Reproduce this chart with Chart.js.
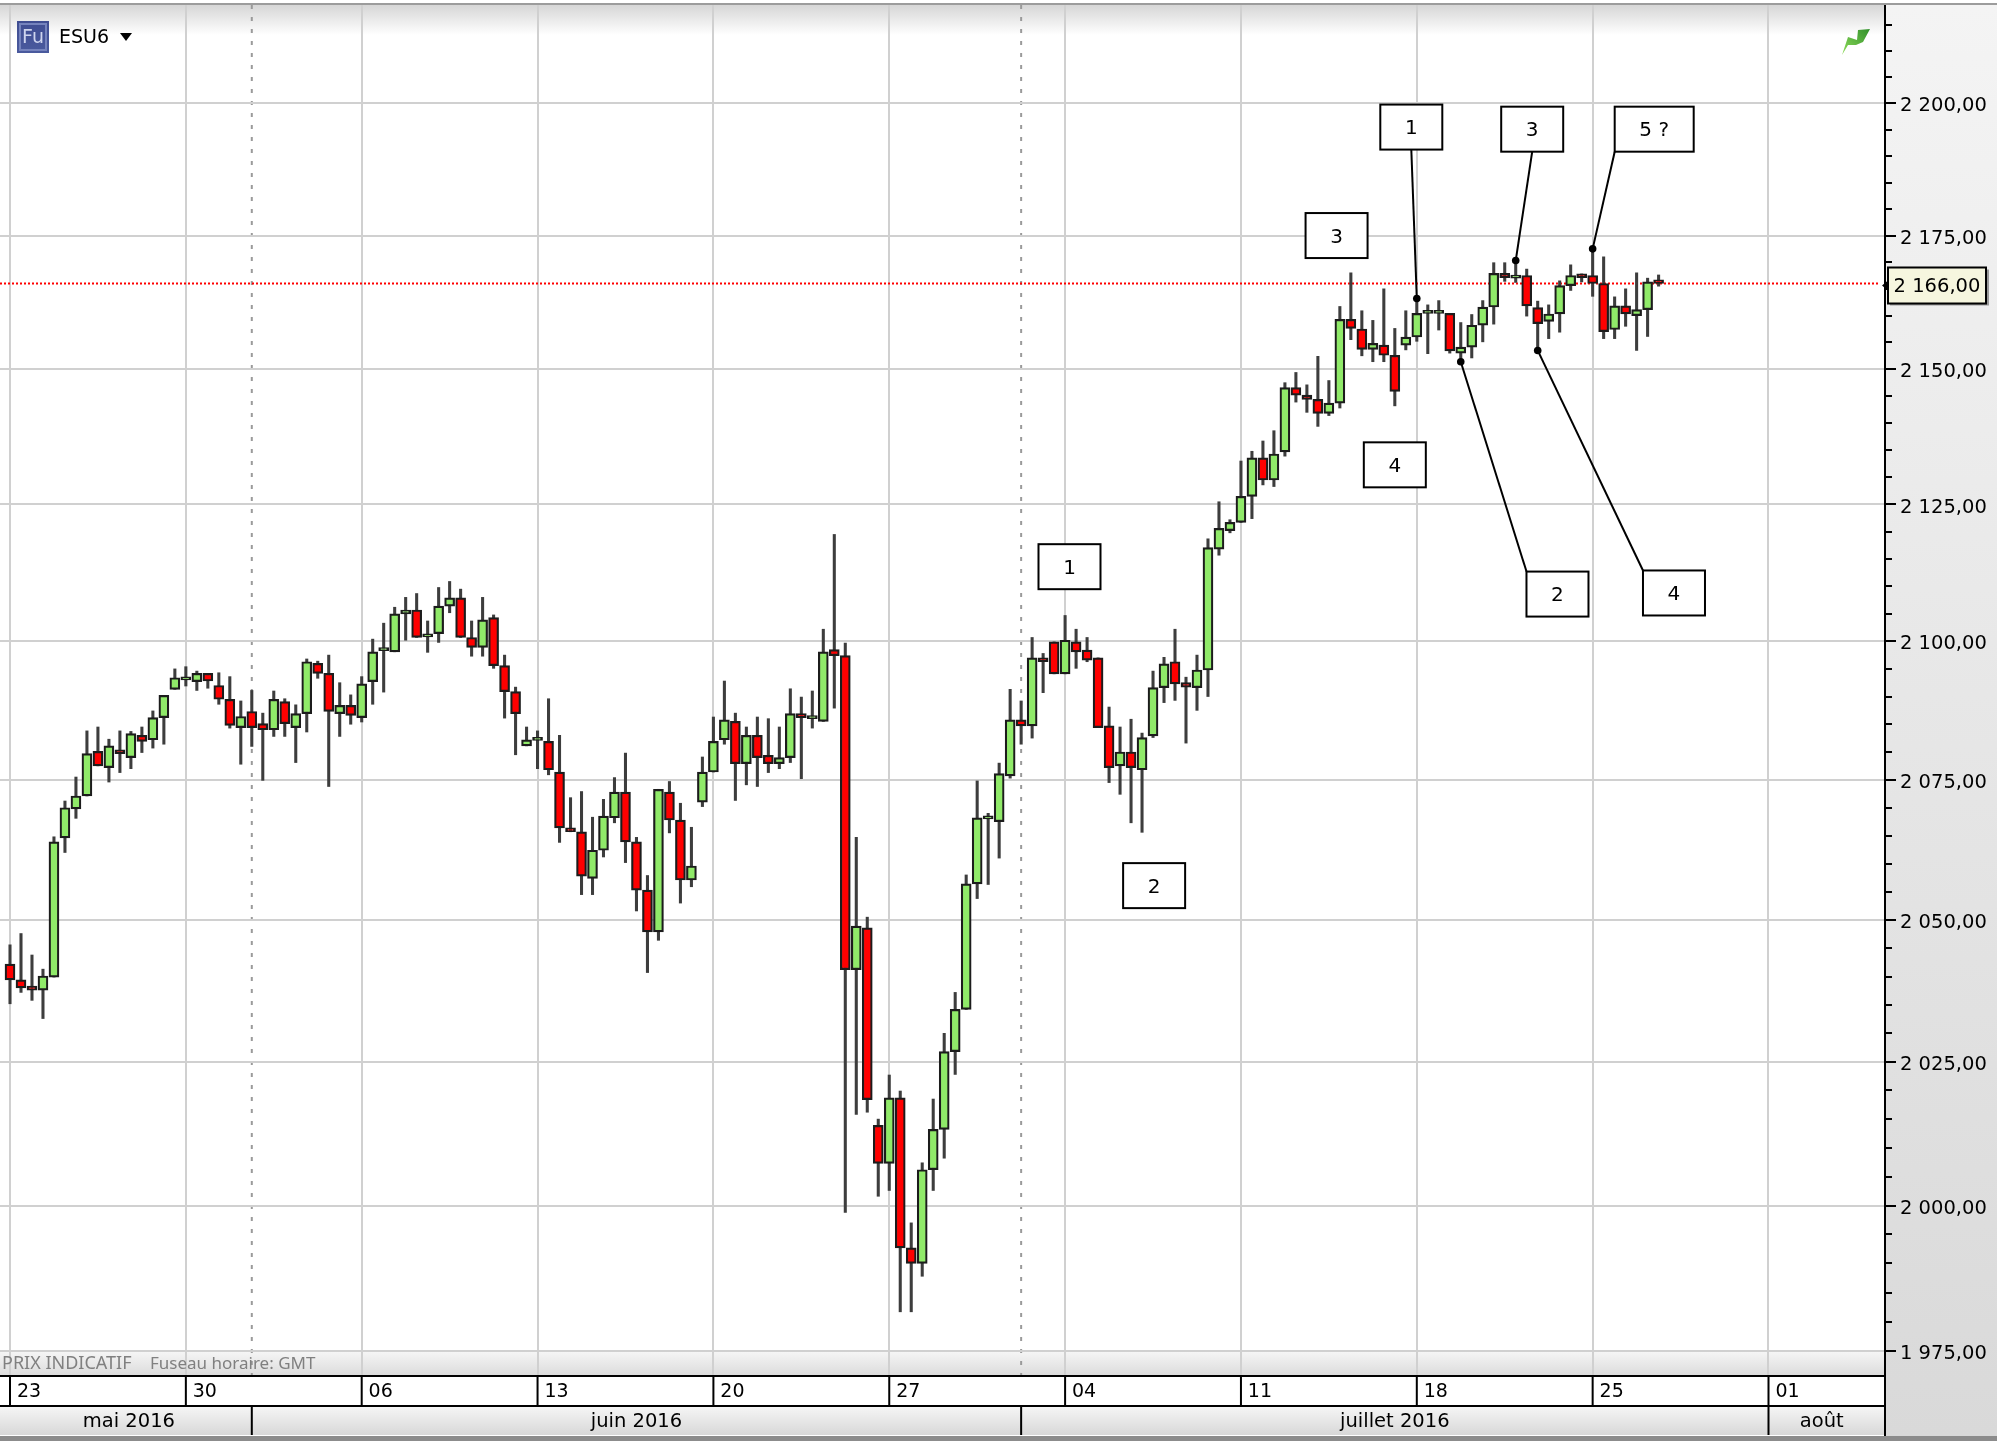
<!DOCTYPE html>
<html>
<head>
<meta charset="utf-8">
<title>ESU6</title>
<script src="https://cdn.jsdelivr.net/npm/chart.js@4/dist/chart.umd.min.js"></script>
<style>
  html, body { margin: 0; padding: 0; background: #fff; }
  canvas { display: block; }
</style>
</head>
<body>
<canvas id="chart" width="1997" height="1441"></canvas>
<script>
// one candle every 8h, 16 candles between two Mondays
const opens = [2042.2,2039.4,2038.3,2037.6,2039.9,2064.6,2069.8,2072.1,2080.1,2077.2,2080.4,2079,2083,2082.2,2086.2,2091.3,
  2093,2092.7,2094.2,2092,2089.5,2084.4,2087.3,2085.1,2084,2089.1,2084.4,2086.9,2096,2094.2,2086.9,2088.4,
  2086.2,2092.7,2098.3,2098.1,2105,2105.7,2100.8,2101.4,2106.4,2107.9,2100.7,2098.9,2104.3,2095.6,2090.9,2081.1,
  2082.1,2081.9,2076.4,2066.4,2065.7,2057.4,2062.4,2068.2,2072.8,2063.9,2055.3,2047.9,2072.8,2067.8,2057.1,2071,
  2076.4,2082.2,2085.5,2077.9,2083,2079.4,2077.9,2079,2086.9,2086,2085.5,2098.5,2097.4,2041.2,2048.6,2013.9,
  2007.3,2018.7,1992.7,1990,2006.2,2013.2,2026.8,2034.2,2056.4,2068,2067.5,2075.7,2085.8,2084.7,2097,2099.9,
  2094.1,2099.9,2098.4,2097,2084.7,2077.5,2080,2076.8,2082.9,2091.6,2096.3,2092.5,2091.6,2094.8,2116.8,2120.2,
  2121.7,2126.5,2133.6,2129.5,2134.7,2146.6,2145.2,2144.4,2141.8,2143.7,2159.3,2157.5,2153.7,2154.5,2152.6,2154.5,
  2156,2160.4,2160.4,2160.4,2153,2154.1,2158.2,2161.6,2167.9,2167,2167.5,2161.5,2158.9,2160.3,2165.6,2167.8,
  2167.5,2166,2157.4,2161.8,2160,2161.1,2166.7];
const highs = [2045.6,2047.6,2043.8,2041.3,2064.8,2071.2,2075.5,2083.8,2084.5,2082.3,2083.8,2083.7,2084.5,2087.4,2090.2,2095,
  2095.4,2094.6,2094.2,2094.3,2093.6,2089.2,2091.1,2087,2091,2089.6,2088.5,2096.8,2096.4,2097.5,2092.5,2090.3,
  2093.6,2100.4,2103.3,2106.2,2108,2108.7,2103.7,2109.8,2110.9,2109.5,2103.7,2108,2104.8,2097.5,2091.7,2084.5,
  2083.8,2089.6,2083,2071.8,2072.9,2068.3,2071.5,2075.4,2079.8,2064.7,2057.9,2073.3,2074.7,2070.8,2066.5,2079.1,
  2086.3,2092.8,2087,2084.5,2086.3,2086,2084.5,2091.4,2089.9,2091,2102.2,2119.5,2099.7,2064.7,2050.5,2015,
  2022.7,2019.9,1997,2007.4,2018.5,2030,2037.2,2058,2074.8,2069,2078,2091.3,2089.2,2100.7,2097.8,2099.9,
  2104.7,2102.2,2100.7,2097,2088.1,2084.5,2085.9,2083.4,2094.6,2097.1,2102.2,2093.5,2097.5,2118.7,2125.5,2122.2,
  2133,2134.8,2136.7,2138.6,2147.5,2149.4,2147.1,2152.4,2147.9,2161.7,2168,2160.9,2159.1,2165,2157.6,2160.9,
  2163,2162,2162.8,2160.4,2158.7,2160.2,2162.8,2169.9,2169.9,2170.3,2168.7,2162.7,2162,2166.5,2169.5,2167.8,
  2172.5,2171,2163.5,2165,2168,2167,2167.6];
const lows = [2035.2,2037.2,2035.8,2032.6,2039.9,2062,2068.1,2072.1,2077.5,2074.6,2076.3,2077,2079.9,2080.7,2081.4,2091.3,
  2091.9,2091.1,2091.5,2088.6,2084.3,2077.8,2081,2074.9,2082.8,2082.8,2078.1,2083.6,2093.3,2073.8,2082.8,2085,
  2085.4,2088.6,2090.8,2098.1,2100.2,2100.7,2098,2099.8,2105.2,2100.7,2097.3,2097.3,2095.1,2086.1,2079.5,2081.1,
  2077,2075.9,2063.8,2065.7,2054.5,2054.5,2061.2,2067.3,2060.2,2051.6,2040.7,2046.4,2065.5,2053,2055.9,2070.2,
  2076.4,2081.4,2071.3,2074.1,2073.8,2076.3,2077,2078.1,2075.2,2084.3,2085.5,2087.9,1998.8,2015.8,2016.2,2001.6,
  2002.6,1981.7,1981.7,1987.8,2002.6,2008.2,2022.8,2034.2,2053.8,2056.3,2061,2075.3,2081.4,2082.5,2090.7,2094.1,
  2094.1,2095.1,2096.3,2084.4,2074.5,2072.4,2067.3,2065.6,2082.6,2088.9,2089.3,2081.6,2087.5,2090,2115.7,2119.8,
  2121.7,2122.4,2128.6,2128.3,2133.9,2143.9,2142,2139.4,2141.4,2142.8,2155.5,2152.5,2151.4,2151.4,2143.2,2153.6,
  2155.2,2152.9,2157.3,2153,2152,2152.1,2155.1,2158.4,2166.4,2166.2,2159.9,2153.5,2155.7,2156.9,2164.7,2166.3,
  2163.6,2155.7,2155.7,2158,2153.5,2156.1,2165.5];
const closes = [2039.4,2038,2037.6,2040.1,2063.9,2070,2072.1,2079.7,2077.5,2081.1,2079.7,2083.3,2081.9,2086.2,2090.2,2093.4,
  2093,2094.2,2092.8,2089.5,2084.8,2086.4,2084.4,2084,2089.5,2085.1,2086.9,2096.3,2094.2,2087.3,2088.4,2086.6,
  2092.3,2098.1,2098.3,2105,2105.7,2100.7,2100.8,2106.4,2107.9,2100.7,2098.9,2103.9,2095.6,2090.9,2086.9,2082.2,
  2082.1,2076.8,2066.4,2065.7,2057.8,2062.4,2068.5,2072.8,2063.9,2055.3,2047.9,2073.3,2067.8,2057.1,2059.6,2076.4,
  2081.9,2085.8,2077.9,2083,2079,2077.9,2079,2086.9,2086.2,2086,2098.1,2097.4,2041.2,2048.9,2018.4,2007.3,
  2018.7,1992.7,1990,2006.2,2013.2,2026.8,2034.2,2056.4,2068.2,2068,2076.1,2085.8,2084.7,2097,2096.3,2094.1,
  2100.2,2098.1,2096.6,2084.4,2077.2,2080,2077.2,2082.6,2091.6,2095.9,2092.3,2091.7,2094.8,2117.1,2120.6,2121.7,
  2126.5,2133.6,2129.5,2134.3,2146.6,2145.2,2144.4,2141.8,2143.7,2159.3,2157.6,2153.7,2154.8,2152.6,2145.9,2156,
  2160.4,2160.4,2160.4,2153.4,2154.1,2158.2,2161.6,2167.9,2167.1,2167,2161.8,2158.5,2160.3,2165.6,2167.5,2167.1,
  2166,2157,2161.8,2160.3,2161.1,2166.3,2166];

const weekLabels = ['23', '30', '06', '13', '20', '27', '04', '11', '18', '25', '01'];
const weekStarts = [0, 16, 32, 48, 64, 80, 96, 112, 128, 144, 160];
const monthLabels = ['mai 2016', 'juin 2016', 'juillet 2016', 'août'];
const monthStarts = [22, 92, 160];
const priceLabels = [2200, 2175, 2150, 2125, 2100, 2075, 2050, 2025, 2000, 1975];
const lastPrice = 2166;

// wave counts: label, box centre, point it refers to
const calloutLabels = ['1', '3', '5 ?', '2', '4', '3', '4', '1', '2'];
const calloutIndex = [127.5, 138.5, 149.6, 140.8, 151.4, 120.7, 126, 96.4, 104.1];
const calloutPrice = [2195.5, 2195.1, 2195.1, 2108.6, 2108.8, 2175, 2132.3, 2113.6, 2056.1];
const targetIndex = [128, 137, 144, 132, 139, null, null, null, null];
const targetPrice = [2163.2, 2170.3, 2172.5, 2151.4, 2153.5, null, null, null, null];
const calloutAnchor = ['bottom', 'bottom', 'bottomLeft', 'topLeft', 'topLeft', null, null, null, null];

const FONT = '"DejaVu Sans", sans-serif';
const GREEN = '#90ea69';
const RED = '#ff0000';
const AXIS_X = 1885;
const PLOT_BOTTOM = 1375;
const xIdx = opens.map((_, i) => i);

function formatPrice(v) {
    const s = v.toFixed(2).replace('.', ',');
    return s.charAt(0) + ' ' + s.slice(1);
}

function vGradient(ctx, y0, y1, c0, c1) {
    const g = ctx.createLinearGradient(0, y0, 0, y1);
    g.addColorStop(0, c0);
    g.addColorStop(1, c1);
    return g;
}

// the plot has to fill its box exactly, so no room is kept for tick labels
function noPadding(axis) {
    axis.paddingLeft = 0;
    axis.paddingRight = 0;
    axis.paddingTop = 0;
    axis.paddingBottom = 0;
}

const backdrop = {
    id: 'backdrop',
    beforeDraw(chart) {
        const ctx = chart.ctx;
        ctx.save();
        ctx.fillStyle = '#fff';
        ctx.fillRect(0, 0, 1997, 1441);
        // top fade
        ctx.fillStyle = vGradient(ctx, 5, 35, '#d6d6d6', '#ffffff');
        ctx.fillRect(0, 5, AXIS_X, 30);
        // band under the plot
        ctx.fillStyle = vGradient(ctx, 1351, PLOT_BOTTOM, '#f6f6f6', '#dcdcdc');
        ctx.fillRect(0, 1351, AXIS_X, PLOT_BOTTOM - 1351);
        // price axis panel
        ctx.fillStyle = vGradient(ctx, 5, 1436, '#f4f4f4', '#d9d9d9');
        ctx.fillRect(AXIS_X, 5, 1997 - AXIS_X, 1431);
        // month row
        ctx.fillStyle = vGradient(ctx, 1406, 1435, '#f6f6f6', '#d8d8d8');
        ctx.fillRect(0, 1406, AXIS_X, 29);
        // window edges
        ctx.fillStyle = '#9c9c9c';
        ctx.fillRect(0, 3, 1997, 2);
        ctx.fillStyle = '#8c8c8c';
        ctx.fillRect(0, 1436, 1997, 5);
        // month boundaries through the plot
        const x = chart.scales.x;
        ctx.strokeStyle = '#9a9a9a';
        ctx.lineWidth = 2;
        ctx.setLineDash([4, 8]);
        monthStarts.slice(0, 2).forEach(m => {
            const px = x.getPixelForValue(m);
            ctx.beginPath();
            ctx.moveTo(px, 5);
            ctx.lineTo(px, PLOT_BOTTOM);
            ctx.stroke();
        });
        ctx.restore();
    }
};

const overlay = {
    id: 'overlay',
    afterDraw(chart) {
        const ctx = chart.ctx;
        const x = chart.scales.x;
        const y = chart.scales.y;
        ctx.save();

        // axis frame
        ctx.fillStyle = '#000';
        ctx.fillRect(AXIS_X - 1, 5, 2, 1431);
        ctx.fillRect(0, PLOT_BOTTOM, AXIS_X, 2);
        ctx.fillRect(0, 1405, AXIS_X, 2);
        weekStarts.forEach(w => ctx.fillRect(x.getPixelForValue(w) - 1, PLOT_BOTTOM, 2, 30));
        monthStarts.forEach(m => ctx.fillRect(x.getPixelForValue(m) - 1, 1405, 2, 30));

        // minor and major price marks
        for (let p = 1980; p <= 2215; p += 5) {
            const py = Math.round(y.getPixelForValue(p));
            ctx.fillRect(AXIS_X, py - 1, priceLabels.includes(p) ? 11 : 7, 2);
        }
        ctx.fillRect(AXIS_X, Math.round(y.getPixelForValue(1975)) - 1, 11, 2);

        // month names
        ctx.font = '19.5px ' + FONT;
        ctx.textAlign = 'center';
        ctx.textBaseline = 'middle';
        const edges = [6].concat(monthStarts.map(m => x.getPixelForValue(m)), [AXIS_X - 10]);
        monthLabels.forEach((label, i) => ctx.fillText(label, (edges[i] + edges[i + 1]) / 2, 1422));

        // footer note
        ctx.fillStyle = '#808080';
        ctx.textAlign = 'left';
        ctx.font = '18px "Noto Sans", sans-serif';
        ctx.fillText('PRIX INDICATIF', 2, 1364);
        ctx.font = '17px "Noto Sans", sans-serif';
        ctx.fillText('Fuseau horaire: GMT', 150, 1364);

        // instrument badge
        ctx.fillStyle = vGradient(ctx, 21, 53, '#3f4d92', '#4a5a9e');
        ctx.fillRect(17, 21, 32, 32);
        ctx.strokeStyle = '#7583bd';
        ctx.lineWidth = 2;
        ctx.strokeRect(20, 24, 26, 26);
        ctx.fillStyle = '#cfd5ee';
        ctx.font = '19px ' + FONT;
        ctx.textAlign = 'center';
        ctx.fillText('Fu', 33, 38);
        ctx.fillStyle = '#000';
        ctx.font = '19px ' + FONT;
        ctx.textAlign = 'left';
        ctx.fillText('ESU6', 59, 38);
        ctx.beginPath();
        ctx.moveTo(120, 33);
        ctx.lineTo(132, 33);
        ctx.lineTo(126, 41);
        ctx.closePath();
        ctx.fill();

        // trend icon
        const g = ctx.createLinearGradient(1842, 55, 1870, 28);
        g.addColorStop(0, '#8fdc5a');
        g.addColorStop(1, '#2f8f2a');
        ctx.fillStyle = g;
        ctx.beginPath();
        [[1842, 55], [1848, 37], [1857, 40], [1858, 30], [1870, 29], [1863, 42], [1856, 45], [1848, 45]]
            .forEach((p, i) => i ? ctx.lineTo(p[0], p[1]) : ctx.moveTo(p[0], p[1]));
        ctx.closePath();
        ctx.fill();

        // callouts
        calloutLabels.forEach((label, i) => {
            const cx = x.getPixelForValue(calloutIndex[i]);
            const cy = y.getPixelForValue(calloutPrice[i]);
            const w = label.length > 1 ? 79 : 62;
            const h = 45;
            if (targetIndex[i] !== null) {
                const tx = x.getPixelForValue(targetIndex[i]);
                const ty = y.getPixelForValue(targetPrice[i]);
                const sx = calloutAnchor[i] === 'bottom' ? cx : cx - w / 2;
                const sy = calloutAnchor[i] === 'topLeft' ? cy - h / 2 : cy + h / 2;
                ctx.strokeStyle = '#000';
                ctx.lineWidth = 2;
                ctx.beginPath();
                ctx.moveTo(sx, sy);
                ctx.lineTo(tx, ty);
                ctx.stroke();
                ctx.fillStyle = '#000';
                ctx.beginPath();
                ctx.arc(tx, ty, 3.8, 0, Math.PI * 2);
                ctx.fill();
            }
            ctx.fillStyle = '#fff';
            ctx.fillRect(cx - w / 2, cy - h / 2, w, h);
            ctx.strokeStyle = '#000';
            ctx.lineWidth = 2;
            ctx.strokeRect(cx - w / 2, cy - h / 2, w, h);
            ctx.fillStyle = '#000';
            ctx.font = '20px ' + FONT;
            ctx.textAlign = 'center';
            ctx.textBaseline = 'middle';
            ctx.fillText(label, cx, cy + 2);
        });

        // last price tag
        const ly = y.getPixelForValue(lastPrice);
        ctx.fillStyle = '#9a9a9a';
        ctx.fillRect(1890, ly - 14, 99, 36);
        ctx.fillStyle = '#f6f6df';
        ctx.fillRect(1888, ly - 16, 98, 36);
        ctx.strokeStyle = '#000';
        ctx.lineWidth = 2;
        ctx.strokeRect(1888, ly - 16, 98, 36);
        ctx.fillStyle = '#000';
        ctx.beginPath();
        ctx.moveTo(1882, ly + 2);
        ctx.lineTo(1888, ly - 3);
        ctx.lineTo(1888, ly + 7);
        ctx.closePath();
        ctx.fill();
        ctx.font = '19.5px ' + FONT;
        ctx.textAlign = 'center';
        ctx.fillText(formatPrice(lastPrice), 1937, ly + 3);

        ctx.restore();
    }
};

new Chart(document.getElementById('chart').getContext('2d'), {
    type: 'bar',
    data: {
        datasets: [
            {
                type: 'line',
                data: [{ x: -0.91, y: lastPrice }, { x: 170.1, y: lastPrice }],
                borderColor: RED,
                borderWidth: 2,
                borderDash: [2, 2],
                pointRadius: 0,
                order: 3
            },
            {
                data: xIdx.map(i => ({ x: i, y: [lows[i], highs[i]] })),
                backgroundColor: '#3d3d3d',
                borderWidth: 0,
                barThickness: 2.4,
                grouped: false,
                order: 2
            },
            {
                data: xIdx.map(i => ({ x: i, y: [opens[i], closes[i]] })),
                backgroundColor: xIdx.map(i => closes[i] >= opens[i] ? GREEN : RED),
                borderColor: '#1c1c1c',
                borderWidth: 2.2,
                borderSkipped: false,
                barThickness: 10,
                minBarLength: 3,
                grouped: false,
                order: 1
            }
        ]
    },
    options: {
        responsive: false,
        animation: false,
        layout: { padding: { top: 5, left: 0, right: 0, bottom: 0 } },
        plugins: { legend: { display: false }, tooltip: { enabled: false } },
        scales: {
            x: {
                type: 'linear',
                min: -0.91,
                max: 170.6,
                offset: false,
                grid: { color: '#d0d0d0', lineWidth: 2, drawTicks: false, offset: false },
                border: { display: false },
                afterBuildTicks: axis => { axis.ticks = weekStarts.map(v => ({ value: v })); },
                afterFit: axis => { axis.height = 1441 - PLOT_BOTTOM; noPadding(axis); },
                ticks: {
                    autoSkip: false,
                    maxRotation: 0,
                    padding: 6,
                    labelOffset: 19,
                    color: '#000',
                    font: { family: FONT, size: 19 },
                    callback: (v, i) => weekLabels[i]
                }
            },
            y: {
                type: 'logarithmic',
                position: 'right',
                min: 1970.9,
                max: 2218.8,
                grid: { color: '#d0d0d0', lineWidth: 2, drawTicks: false },
                border: { display: false },
                afterBuildTicks: axis => { axis.ticks = priceLabels.map(v => ({ value: v })); },
                afterFit: axis => { axis.width = 1997 - AXIS_X; noPadding(axis); },
                ticks: {
                    autoSkip: false,
                    padding: 15,
                    labelOffset: 3,
                    color: '#000',
                    font: { family: FONT, size: 19.5 },
                    callback: v => formatPrice(v)
                }
            }
        }
    },
    plugins: [backdrop, overlay]
});
</script>
</body>
</html>
